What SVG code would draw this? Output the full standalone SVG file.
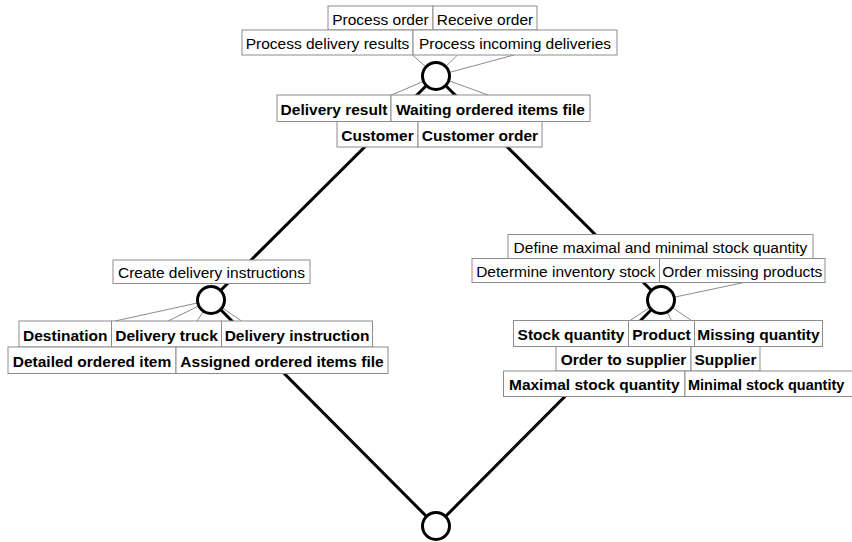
<svg xmlns="http://www.w3.org/2000/svg" width="852" height="542" viewBox="0 0 852 542">
  <style>
    .bg { fill: #ffffff; }
    .edge { stroke: #000000; stroke-width: 3; fill: none; }
    .tie { stroke: #8c8c8c; stroke-width: 1; fill: none; }
    .hub { fill: #ffffff; stroke: #000000; stroke-width: 3; }
    .box { fill: #ffffff; stroke: #8c8c8c; stroke-width: 1; }
    text { font-family: "Liberation Sans", Arial, Helvetica, sans-serif; font-size: 15.5px; fill: #000000; text-anchor: middle; }
    .b { font-weight: bold; }
  </style>
  <rect class="bg" x="0" y="0" width="852" height="542"/>

  <!-- connectors: heavy edges between hubs, light ties from hubs to their labels -->
  <g id="connectors">
    <line class="edge" x1="436" y1="76" x2="211" y2="300"/>
    <line class="edge" x1="436" y1="76" x2="661" y2="300"/>
    <line class="edge" x1="211" y1="300" x2="436" y2="526"/>
    <line class="edge" x1="661" y1="300" x2="436" y2="526"/>

    <line class="tie" x1="436" y1="76" x2="412.5" y2="55"/>
    <line class="tie" x1="436" y1="76" x2="457.5" y2="55"/>
    <line class="tie" x1="436" y1="76" x2="514" y2="55"/>
    <line class="tie" x1="436" y1="76" x2="391.5" y2="95"/>
    <line class="tie" x1="436" y1="76" x2="488" y2="95"/>

    <line class="tie" x1="211" y1="300" x2="115" y2="321"/>
    <line class="tie" x1="211" y1="300" x2="168" y2="321"/>
    <line class="tie" x1="211" y1="300" x2="197" y2="321"/>
    <line class="tie" x1="211" y1="300" x2="241.5" y2="321"/>

    <line class="tie" x1="661" y1="300" x2="744" y2="282.5"/>
    <line class="tie" x1="661" y1="300" x2="630" y2="320.5"/>
    <line class="tie" x1="661" y1="300" x2="671.5" y2="320.5"/>
    <line class="tie" x1="661" y1="300" x2="691.5" y2="320.5"/>
  </g>

  <g id="n-top">
    <circle class="hub" cx="436" cy="76" r="13.5"/>
    <rect class="box" x="328" y="6" width="105" height="24"/>
    <text x="380.5" y="24.5">Process order</text>
    <rect class="box" x="433" y="6" width="104" height="24"/>
    <text x="485" y="24.5">Receive order</text>
    <rect class="box" x="242" y="30" width="171" height="25"/>
    <text x="327.5" y="49">Process delivery results</text>
    <rect class="box" x="413" y="30" width="204" height="25"/>
    <text x="515" y="49">Process incoming deliveries</text>
    <rect class="box" x="277" y="95" width="114" height="26.5"/>
    <text class="b" x="334" y="114.75">Delivery result</text>
    <rect class="box" x="391" y="95" width="199" height="26.5"/>
    <text class="b" x="490.5" y="114.75">Waiting ordered items file</text>
    <rect class="box" x="337" y="121.5" width="81" height="25.5"/>
    <text class="b" x="377.5" y="140.75">Customer</text>
    <rect class="box" x="418" y="121.5" width="124" height="25.5"/>
    <text class="b" x="480" y="140.75">Customer order</text>
  </g>

  <g id="n-left">
    <circle class="hub" cx="211" cy="300" r="13.5"/>
    <rect class="box" x="113" y="260" width="197" height="23.5"/>
    <text x="211.5" y="278.25">Create delivery instructions</text>
    <rect class="box" x="19" y="321" width="92.5" height="26"/>
    <text class="b" x="65.25" y="340.5">Destination</text>
    <rect class="box" x="111.5" y="321" width="110" height="26"/>
    <text class="b" x="166.5" y="340.5">Delivery truck</text>
    <rect class="box" x="221.5" y="321" width="151" height="26"/>
    <text class="b" x="297" y="340.5">Delivery instruction</text>
    <rect class="box" x="8" y="347" width="168" height="26.5"/>
    <text class="b" x="92" y="366.75">Detailed ordered item</text>
    <rect class="box" x="176" y="347" width="212" height="26.5"/>
    <text class="b" x="282" y="366.75">Assigned ordered items file</text>
  </g>

  <g id="n-right">
    <circle class="hub" cx="661" cy="300" r="13.5"/>
    <rect class="box" x="508" y="234.5" width="305" height="24"/>
    <text x="660.5" y="253">Define maximal and minimal stock quantity</text>
    <rect class="box" x="472" y="258.5" width="187.5" height="24"/>
    <text x="565.75" y="277">Determine inventory stock</text>
    <rect class="box" x="659.5" y="258.5" width="165.5" height="24"/>
    <text x="742.25" y="277">Order missing products</text>
    <rect class="box" x="513.5" y="320.5" width="115" height="26"/>
    <text class="b" x="571" y="340">Stock quantity</text>
    <rect class="box" x="628.5" y="320.5" width="66" height="26"/>
    <text class="b" x="661.5" y="340">Product</text>
    <rect class="box" x="694.5" y="320.5" width="128" height="26"/>
    <text class="b" x="758.5" y="340">Missing quantity</text>
    <rect class="box" x="556" y="346.5" width="135" height="24.5"/>
    <text class="b" x="623.5" y="365.25">Order to supplier</text>
    <rect class="box" x="691" y="346.5" width="69" height="24.5"/>
    <text class="b" x="725.5" y="365.25">Supplier</text>
    <rect class="box" x="503.5" y="371" width="181.5" height="25.5"/>
    <text class="b" x="594.25" y="390.25">Maximal stock quantity</text>
    <rect class="box" x="685" y="371" width="180" height="25.5"/>
    <text class="b" x="688" y="390" style="text-anchor: start; font-size: 14.5px">Minimal stock quantity</text>
  </g>

  <g id="n-bottom">
    <circle class="hub" cx="436" cy="526" r="13.5"/>
  </g>
</svg>
